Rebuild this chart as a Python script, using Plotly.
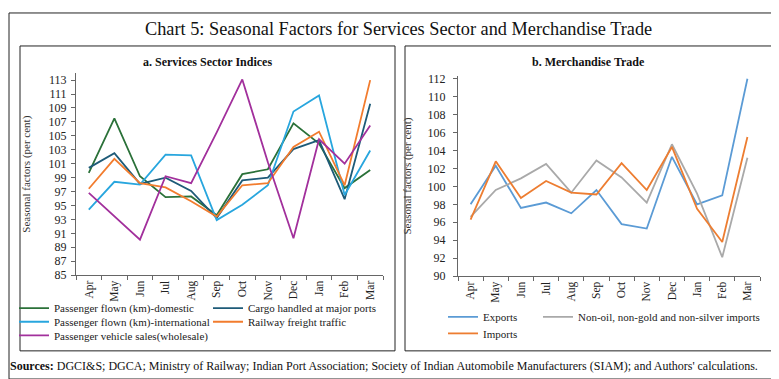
import plotly.graph_objects as go

months = ["Apr", "May", "Jun", "Jul", "Aug", "Sep", "Oct", "Nov", "Dec", "Jan", "Feb", "Mar"]

pass_domestic = [99.7, 107.5, 99.2, 96.2, 96.3, 93.6, 99.5, 100.2, 106.8, 103.9, 97.5, 100.1]
cargo_ports = [100.4, 102.5, 98.1, 99.0, 97.1, 93.2, 98.6, 99.0, 103.1, 104.4, 95.9, 109.6]
pass_international = [94.4, 98.4, 98.0, 102.3, 102.2, 92.9, 95.1, 97.9, 108.5, 110.8, 96.5, 102.9]
railway_freight = [97.4, 101.7, 98.2, 97.6, 95.6, 93.4, 97.9, 98.2, 103.4, 105.6, 97.9, 113.0]
vehicle_sales = [96.8, 93.4, 90.1, 99.2, 98.2, 105.5, 113.1, 101.2, 90.3, 104.5, 101.0, 106.5]

exports = [98.0, 102.3, 97.6, 98.2, 97.0, 99.6, 95.8, 95.3, 103.3, 98.0, 99.0, 112.0]
imports = [96.3, 102.8, 98.7, 100.6, 99.3, 99.1, 102.6, 99.6, 104.4, 97.5, 93.8, 105.5]
non_oil_imports = [96.6, 99.6, 100.9, 102.5, 99.3, 102.9, 101.0, 98.2, 104.7, 99.2, 92.1, 103.2]

left_ticks = list(range(85, 114, 2))
right_ticks = list(range(90, 113, 2))

W, H = 779, 379
FONT = "Liberation Serif"


def px(x):
    return x / W


def py(y):
    return 1 - y / H


fig = go.Figure()

left_series = [
    ("Passenger flown (km)-domestic", pass_domestic, "#2B7139", "legend2"),
    ("Cargo handled at major ports", cargo_ports, "#1E5B78", "legend3"),
    ("Passenger flown (km)-international", pass_international, "#28A6DE", "legend4"),
    ("Railway freight traffic", railway_freight, "#F27C2E", "legend5"),
    ("Passenger vehicle sales(wholesale)", vehicle_sales, "#A2309C", "legend6"),
]
for name, vals, col, lg in left_series:
    fig.add_trace(go.Scatter(x=months, y=vals, name=name, mode="lines",
                             line=dict(color=col, width=1.8), xaxis="x", yaxis="y",
                             legend=lg))

right_series = [
    ("Exports", exports, "#5B9BD5", "legend7"),
    ("Non-oil, non-gold and non-silver imports", non_oil_imports, "#A9A9A9", "legend8"),
    ("Imports", imports, "#ED7D31", "legend9"),
]
for name, vals, col, lg in right_series:
    fig.add_trace(go.Scatter(x=months, y=vals, name=name, mode="lines",
                             line=dict(color=col, width=1.8), xaxis="x2", yaxis="y2",
                             legend=lg))

axis_common = dict(showgrid=False, zeroline=False, showline=True, linecolor="#666",
                   linewidth=1, ticks="outside", ticklen=4, tickcolor="#666")

fig.update_layout(
    width=W, height=H,
    margin=dict(l=0, r=0, t=0, b=0),
    paper_bgcolor="white", plot_bgcolor="white",
    font=dict(family=FONT, size=11, color="#222"),
    showlegend=True,
    xaxis=dict(domain=[px(68), px(375)], anchor="y", range=[-0.5, 11.5],
               tickangle=-90, tickson="boundaries", type="category",
               tickfont=dict(family=FONT, size=11.5, color="#222"), **axis_common),
    yaxis=dict(domain=[py(271), py(63)], anchor="x", range=[85, 114],
               tickvals=left_ticks, ticklabelstandoff=2,
               tickfont=dict(family=FONT, size=12, color="#222"),
               title=dict(text="Seasonal factors (per cent)", standoff=15,
                          font=dict(family=FONT, size=11, color="#333")),
               **axis_common),
    xaxis2=dict(domain=[px(450), px(752)], anchor="y2", range=[-0.5, 11.5],
                tickangle=-90, tickson="boundaries", type="category",
                tickfont=dict(family=FONT, size=11.5, color="#222"), **axis_common),
    yaxis2=dict(domain=[py(272), py(66)], anchor="x2", range=[90, 112.3],
                tickvals=right_ticks, ticklabelstandoff=5,
                tickfont=dict(family=FONT, size=12, color="#222"),
                title=dict(text="Seasonal factors (per cent)", standoff=13,
                           font=dict(family=FONT, size=11, color="#333")),
                **axis_common),
)

leg_common = dict(orientation="h", xanchor="left", yanchor="middle", bgcolor="rgba(0,0,0,0)",
                  font=dict(family=FONT, size=11, color="#222"), itemwidth=30,
                  tracegroupgap=0)
legend_pos = {
    "legend2": (6, 305), "legend3": (200, 305),
    "legend4": (6, 319), "legend5": (200, 319),
    "legend6": (6, 333),
    "legend7": (435, 314), "legend8": (530, 314),
    "legend9": (435, 331),
}
fig.update_layout(legend=dict(visible=False))
for lg, (lx, ly) in legend_pos.items():
    fig.update_layout({lg: dict(x=px(lx), y=py(ly), **leg_common)})

# frames
shapes = [
    dict(type="rect", xref="paper", yref="paper", x0=px(1), x1=px(778), y0=py(378), y1=py(1),
         line=dict(color="#222", width=1)),
    dict(type="rect", xref="paper", yref="paper", x0=px(12), x1=px(387), y0=py(349), y1=py(35),
         line=dict(color="#222", width=1)),
    dict(type="rect", xref="paper", yref="paper", x0=px(397), x1=px(769), y0=py(349), y1=py(35),
         line=dict(color="#222", width=1)),
]
fig.update_layout(shapes=shapes)

annotations = [
    dict(text="Chart 5: Seasonal Factors for Services Sector and Merchandise Trade",
         x=px(391), y=py(18), xref="paper", yref="paper", showarrow=False,
         xanchor="center", yanchor="middle", font=dict(family=FONT, size=18.3, color="#111")),
    dict(text="<b>a. Services Sector Indices</b>", x=px(199), y=py(51), xref="paper",
         yref="paper", showarrow=False, xanchor="center", yanchor="middle",
         font=dict(family=FONT, size=12, color="#111")),
    dict(text="<b>b. Merchandise Trade</b>", x=px(580), y=py(51), xref="paper",
         yref="paper", showarrow=False, xanchor="center", yanchor="middle",
         font=dict(family=FONT, size=12, color="#111")),
    dict(text="<b>Sources:</b> DGCI&S; DGCA; Ministry of Railway; Indian Port Association; "
              "Society of Indian Automobile Manufacturers (SIAM); and Authors' calculations.",
         x=0, y=py(365), xref="paper", yref="paper", showarrow=False,
         xanchor="left", yanchor="middle", font=dict(family=FONT, size=12, color="#111")),
]
fig.update_layout(annotations=annotations)

fig.write_html("out.html")
